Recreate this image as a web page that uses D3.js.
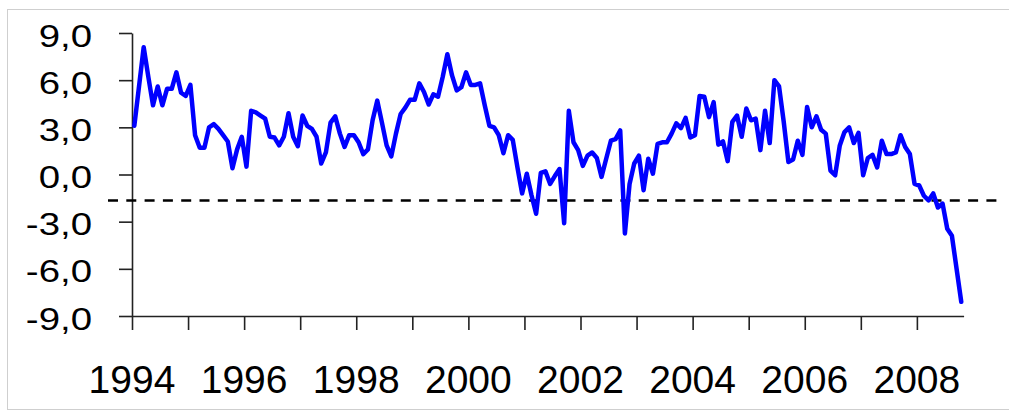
<!DOCTYPE html>
<html>
<head>
<meta charset="utf-8">
<script src="https://cdn.jsdelivr.net/npm/d3@7"></script>
<style>
  body { margin: 0; background: #fff; }
  text { font-family: "Liberation Sans", Arial, sans-serif; fill: #000; }
</style>
</head>
<body>
<div id="chart-area"></div>
<script>
// monthly series, Jan 1994 .. Oct 2008
const startYear = 1994;
const values = [
    3.1, 5.6, 8.1, 6.2, 4.4, 5.6, 4.4, 5.45, 5.45, 6.5, 5.2, 5.0,        // 1994
    5.7, 2.5, 1.7, 1.7, 3.0, 3.2, 2.9, 2.5, 2.1, 0.4, 1.6, 2.4,          // 1995
    0.5, 4.05, 3.95, 3.75, 3.55, 2.4, 2.35, 1.85, 2.4, 3.9, 2.4, 1.8,    // 1996
    3.75, 3.1, 2.9, 2.4, 0.7, 1.4, 3.3, 3.7, 2.6, 1.75, 2.5, 2.5,        // 1997
    2.05, 1.3, 1.6, 3.45, 4.7, 3.3, 1.85, 1.15, 2.6, 3.85, 4.25, 4.75,   // 1998
    4.75, 5.8, 5.25, 4.45, 5.1, 4.95, 6.2, 7.65, 6.3, 5.35, 5.55, 6.5,   // 1999
    5.7, 5.7, 5.8, 4.4, 3.1, 3.0, 2.5, 1.35, 2.5, 2.2, 0.45, -1.2,       // 2000
    0.05, -1.3, -2.5, 0.1, 0.2, -0.6, -0.1, 0.35, -3.1, 4.05, 2.05, 1.55, // 2001
    0.55, 1.2, 1.4, 1.05, -0.15, 1.0, 2.15, 2.25, 2.8, -3.75, -0.6, 0.7, // 2002
    1.2, -1.0, 1.0, 0.05, 1.95, 2.05, 2.05, 2.6, 3.25, 2.95, 3.6, 2.35,  // 2003
    2.5, 5.0, 4.95, 3.65, 4.6, 1.9, 2.1, 0.85, 3.35, 3.75, 2.4, 4.2,     // 2004
    3.45, 3.55, 1.55, 4.05, 2.0, 6.0, 5.6, 3.35, 0.8, 0.95, 2.15, 1.25,  // 2005
    4.3, 3.0, 3.7, 2.85, 2.6, 0.25, -0.05, 1.85, 2.7, 3.0, 2.0, 2.65,    // 2006
    -0.05, 1.05, 1.25, 0.45, 2.15, 1.3, 1.3, 1.4, 2.5, 1.75, 1.3, -0.6,  // 2007
    -0.7, -1.35, -1.65, -1.2, -2.1, -1.85, -3.45, -3.9, -6.0, -8.1       // 2008
];
const threshold = -1.65;
const yTicks = [-9, -6, -3, 0, 3, 6, 9];
const yearLabels = [1994, 1996, 1998, 2000, 2002, 2004, 2006, 2008];

const w = 1009;
const h = 411;

const x = d3.scaleLinear()
    .domain([0, values.length])
    .range([132, 963.6]);

const y = d3.scaleLinear()
    .domain([-9, 9])
    .range([316, 33]);

const loc = d3.formatLocale({ decimal: ",", thousands: ".", grouping: [3], currency: ["", ""], minus: "-" });
const fmt = loc.format(".1f");

const svg = d3.select("#chart-area")
    .append("svg")
    .attr("width", w)
    .attr("height", h);

svg.append("rect")
    .attr("width", w)
    .attr("height", h)
    .attr("fill", "#fff");

// thin frame around the picture
svg.append("rect")
    .attr("x", 7.5)
    .attr("y", 9.5)
    .attr("width", w)
    .attr("height", 400)
    .attr("fill", "none")
    .attr("stroke", "#cfcfcf")
    .attr("stroke-width", 1);

// x axis: tick every year, label every second year
const yearTicks = d3.range(0, values.length, 12);
const xAxis = d3.axisBottom(x)
    .tickValues(yearTicks)
    .tickSize(14)
    .tickSizeOuter(0)
    .tickFormat("");

const gx = svg.append("g")
    .attr("id", "x-axis")
    .attr("transform", "translate(0," + y(-9) + ")")
    .call(xAxis);

gx.selectAll("path, line")
    .attr("stroke", "#222")
    .attr("stroke-width", 1.6);

svg.append("g")
    .selectAll("text")
    .data(yearLabels)
    .enter()
    .append("text")
    .attr("x", d => x((d - startYear) * 12))
    .attr("y", 393)
    .attr("text-anchor", "middle")
    .style("font-size", "39px")
    .text(d => d);

// y axis
const yAxis = d3.axisLeft(y)
    .tickValues(yTicks)
    .tickSize(13)
    .tickSizeOuter(0)
    .tickFormat("");

const gy = svg.append("g")
    .attr("id", "y-axis")
    .attr("transform", "translate(" + x(0) + ",0)")
    .call(yAxis);

gy.selectAll("path, line")
    .attr("stroke", "#222")
    .attr("stroke-width", 1.6);

svg.append("g")
    .selectAll("text")
    .data(yTicks)
    .enter()
    .append("text")
    .attr("transform", d => "translate(92," + (y(d) + 13.5) + ") scale(1.2,1)")
    .attr("text-anchor", "end")
    .style("font-size", "32px")
    .text(d => fmt(d));

// dashed reference level
svg.append("line")
    .attr("x1", 108)
    .attr("x2", 997)
    .attr("y1", y(threshold))
    .attr("y2", y(threshold))
    .attr("stroke", "#000")
    .attr("stroke-width", 2.5)
    .attr("stroke-dasharray", "10,8.3");

const line = d3.line()
    .x((d, i) => x(i + 0.5))
    .y(d => y(d));

svg.append("path")
    .datum(values)
    .attr("d", line)
    .attr("fill", "none")
    .attr("stroke", "#0000ff")
    .attr("stroke-width", 4.5)
    .attr("stroke-linejoin", "round")
    .attr("stroke-linecap", "round");
</script>
</body>
</html>
